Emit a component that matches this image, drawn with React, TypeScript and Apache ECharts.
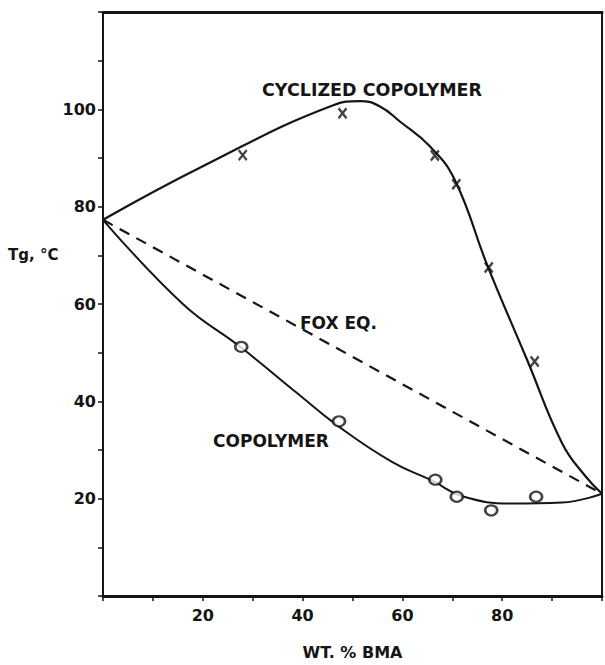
import React, { useEffect, useRef } from "react";
import * as echarts from "echarts";

// ---- data ----
const cyclizedCurveX = [0, 20, 46, 51.5, 55.5, 59.5, 65.5, 70.5, 77, 85, 92, 96.6, 100];
const cyclizedCurveY = [77.3, 88.3, 100.8, 101.7, 100.6, 97.5, 92.4, 85.5, 68, 48.5, 31.4, 24.7, 21];

const copolymerCurveX = [0, 16, 27.5, 39, 47, 58, 66, 72, 82, 92, 100];
const copolymerCurveY = [77.3, 60, 51.2, 41.6, 35, 27.5, 23.7, 20.5, 19, 19.2, 21];

const foxX = [0, 100];
const foxY = [77.3, 21];

const cyclizedPtsX = [28, 48, 66.5, 70.8, 77.3, 86.5];
const cyclizedPtsY = [90.6, 99.2, 90.5, 84.6, 67.5, 48.2];

const copolymerPtsX = [27.7, 47.3, 66.6, 70.9, 77.8, 86.8];
const copolymerPtsY = [51.2, 35.9, 23.9, 20.4, 17.6, 20.4];

const xTickLabels = [20, 40, 60, 80];
const yTickLabels = [20, 40, 60, 80, 100];

const xName = "WT. % BMA";
const yName = "Tg, °C";
const annotations = ["CYCLIZED COPOLYMER", "FOX EQ.", "COPOLYMER"];

const zip = (xs: number[], ys: number[]) => xs.map((x, i) => [x, ys[i]]);

const FONT = "DejaVu Sans";
const INK = "#151515";

export default function App() {
  const ref = useRef<HTMLDivElement>(null);

  useEffect(() => {
    if (!ref.current) return;
    const chart = echarts.init(ref.current, null, { renderer: "svg" });
    const labelStyle = { fontFamily: FONT, fontSize: 16, fontWeight: "bold", color: INK };
    chart.setOption({
      animation: false,
      backgroundColor: "#ffffff",
      grid: { left: 103, right: 0, top: 12, bottom: 63 },
      xAxis: [
        {
          type: "value",
          min: 0,
          max: 100,
          interval: 10,
          position: "bottom",
          name: xName,
          nameLocation: "middle",
          nameGap: 48,
          nameTextStyle: { fontFamily: FONT, fontSize: 16, fontWeight: "bold", color: INK },
          axisLine: { show: true, onZero: false, lineStyle: { color: INK, width: 3 } },
          axisTick: { show: true, inside: false, length: 5, lineStyle: { color: INK, width: 1.5 } },
          axisLabel: {
            ...labelStyle,
            margin: 11,
            formatter: (v: number) => (xTickLabels.includes(v) ? String(v) : ""),
          },
          splitLine: { show: false },
        },
        {
          type: "value",
          min: 0,
          max: 100,
          position: "top",
          axisLine: { show: true, onZero: false, lineStyle: { color: INK, width: 3 } },
          axisTick: { show: false },
          axisLabel: { show: false },
          splitLine: { show: false },
        },
      ],
      yAxis: [
        {
          type: "value",
          min: 0,
          max: 120,
          interval: 10,
          position: "left",
          axisLine: { show: true, onZero: false, lineStyle: { color: INK, width: 2 } },
          axisTick: { show: true, inside: false, length: 5, lineStyle: { color: INK, width: 1.5 } },
          axisLabel: {
            ...labelStyle,
            margin: 7,
            formatter: (v: number) => (yTickLabels.includes(v) ? String(v) : ""),
          },
          splitLine: { show: false },
        },
        {
          type: "value",
          min: 0,
          max: 120,
          position: "right",
          axisLine: { show: true, onZero: false, lineStyle: { color: INK, width: 2 } },
          axisTick: { show: false },
          axisLabel: { show: false },
          splitLine: { show: false },
        },
      ],
      graphic: [
        {
          type: "text",
          left: 8,
          top: 247,
          style: { text: yName, fontFamily: FONT, fontSize: 15, fontWeight: "bold", fill: INK },
        },
        {
          type: "text",
          left: 262,
          top: 81,
          style: { text: annotations[0], fontFamily: FONT, fontSize: 17.5, fontWeight: "bold", fill: INK },
        },
        {
          type: "text",
          left: 300,
          top: 314,
          style: { text: annotations[1], fontFamily: FONT, fontSize: 17, fontWeight: "bold", fill: INK },
        },
        {
          type: "text",
          left: 213,
          top: 432,
          style: { text: annotations[2], fontFamily: FONT, fontSize: 17, fontWeight: "bold", fill: INK },
        },
      ],
      series: [
        {
          name: "cyclized curve",
          type: "line",
          data: zip(cyclizedCurveX, cyclizedCurveY),
          smooth: 0.45,
          showSymbol: false,
          lineStyle: { color: INK, width: 2.2 },
          z: 2,
        },
        {
          name: "copolymer curve",
          type: "line",
          data: zip(copolymerCurveX, copolymerCurveY),
          smooth: 0.45,
          showSymbol: false,
          lineStyle: { color: INK, width: 2 },
          z: 2,
        },
        {
          name: "fox eq",
          type: "line",
          data: zip(foxX, foxY),
          showSymbol: false,
          lineStyle: { color: INK, width: 2.2, type: [11, 8] },
          z: 2,
        },
        {
          name: "cyclized points",
          type: "scatter",
          data: zip(cyclizedPtsX, cyclizedPtsY),
          symbol: "path://M0,0L10,10M10,0L0,10",
          symbolSize: [8, 10],
          itemStyle: { color: "rgba(0,0,0,0)", borderColor: INK, borderWidth: 2.4 },
          z: 3,
        },
        {
          name: "copolymer points",
          type: "scatter",
          data: zip(copolymerPtsX, copolymerPtsY),
          symbol: "circle",
          symbolSize: [12, 10],
          itemStyle: { color: "#ffffff", borderColor: INK, borderWidth: 2.4 },
          z: 3,
        },
      ],
    });
    return () => chart.dispose();
  }, []);

  return <div ref={ref} style={{ width: 605, height: 665, position: "absolute", left: 0, top: 0 }} />;
}
